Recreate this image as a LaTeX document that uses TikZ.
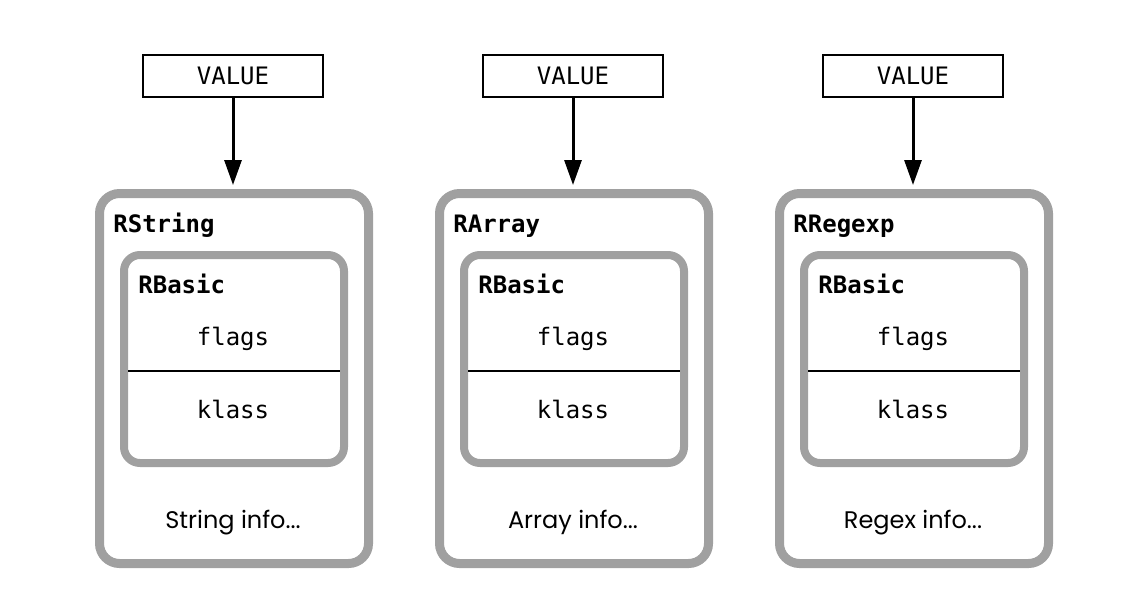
\documentclass[tikz,border=0pt]{standalone}
\usepackage{fontspec}
\setmonofont{DejaVu Sans Mono}
\setsansfont{Poppins}
\usetikzlibrary{arrows.meta}
\definecolor{boxgray}{RGB}{160,160,160}
\tikzset{
  valuebox/.style={draw, line width=1.2pt, minimum width=90pt, minimum height=21pt, inner sep=0pt, font=\ttfamily\fontsize{12}{14}\selectfont},
  outerbox/.style={draw=boxgray, line width=4.5pt, rounded corners=10pt, minimum width=134.5pt, minimum height=185pt, inner sep=0pt},
  innerbox/.style={draw=boxgray, line width=4pt, rounded corners=8pt, minimum width=110pt, minimum height=104pt, inner sep=0pt},
  structname/.style={anchor=base west, inner sep=0pt, font=\ttfamily\bfseries\fontsize{12}{14}\selectfont},
  field/.style={anchor=base, inner sep=0pt, font=\ttfamily\fontsize{12}{14}\selectfont},
  info/.style={anchor=base, inner sep=0pt, font=\sffamily\fontsize{12}{14}\selectfont},
  pointer/.style={-{Triangle[length=12.5pt,width=8.5pt]}, line width=1.5pt, shorten >=2pt},
  divider/.style={line width=1.2pt, shorten <=4pt, shorten >=4pt}
}
\begin{document}
\begin{tikzpicture}[x=0.5pt,y=-0.5pt]
                \useasboundingbox (0,0) rectangle (1125,589);
                % RString
                \node[valuebox] (v1) at (233,76) {VALUE};
                \node[outerbox] (s1) at (234,378.5) {};
                \node[innerbox] (b1) at (234,359) {};
                \node[structname] (n1) at (113,232) {RString};
                \node[structname] (r1) at (138,293) {RBasic};
                \node[field] (f1) at (233,345) {flags};
                \node[field] (k1) at (233,418) {klass};
                \node[info] (t1) at (233,528) {String info...};
                \draw[divider] (b1.west |- 0,371) -- (b1.east |- 0,371);
                \draw[pointer] (v1) -- (v1 |- s1.north);
                % RArray
                \node[valuebox] (v2) at (573,76) {VALUE};
                \node[outerbox] (s2) at (574,378.5) {};
                \node[innerbox] (b2) at (574,359) {};
                \node[structname] (n2) at (453,232) {RArray};
                \node[structname] (r2) at (478,293) {RBasic};
                \node[field] (f2) at (573,345) {flags};
                \node[field] (k2) at (573,418) {klass};
                \node[info] (t2) at (573,528) {Array info...};
                \draw[divider] (b2.west |- 0,371) -- (b2.east |- 0,371);
                \draw[pointer] (v2) -- (v2 |- s2.north);
                % RRegexp
                \node[valuebox] (v3) at (913,76) {VALUE};
                \node[outerbox] (s3) at (914,378.5) {};
                \node[innerbox] (b3) at (914,359) {};
                \node[structname] (n3) at (793,232) {RRegexp};
                \node[structname] (r3) at (818,293) {RBasic};
                \node[field] (f3) at (913,345) {flags};
                \node[field] (k3) at (913,418) {klass};
                \node[info] (t3) at (913,528) {Regex info...};
                \draw[divider] (b3.west |- 0,371) -- (b3.east |- 0,371);
                \draw[pointer] (v3) -- (v3 |- s3.north);
\end{tikzpicture}
\end{document}
